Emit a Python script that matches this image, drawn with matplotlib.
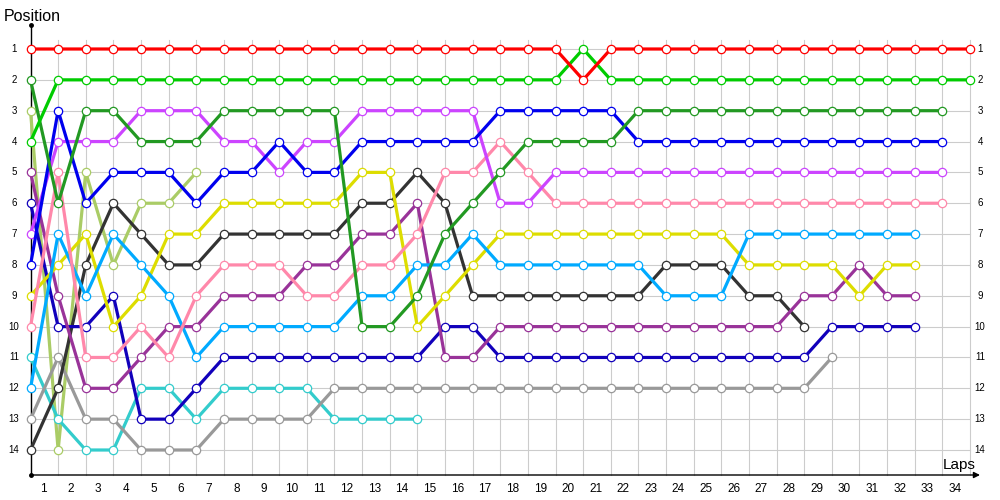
import matplotlib
matplotlib.use("Agg")
import matplotlib.pyplot as plt

plt.rcParams['font.family'] = ['Liberation Sans', 'DejaVu Sans']

# lap columns: 0 = start grid, then laps 1..34
lap_labels = [str(i) for i in range(1, 35)]
positions = list(range(1, 15))

# position of each car at each lap column (shorter list = lapped / retired)
red = [1, 1, 1, 1, 1, 1, 1, 1, 1, 1, 1, 1, 1, 1, 1, 1, 1, 1, 1, 1, 2, 1, 1, 1, 1, 1, 1, 1, 1, 1, 1, 1, 1, 1, 1]
bright_green = [4, 2, 2, 2, 2, 2, 2, 2, 2, 2, 2, 2, 2, 2, 2, 2, 2, 2, 2, 2, 1, 2, 2, 2, 2, 2, 2, 2, 2, 2, 2, 2, 2, 2, 2]
dark_green = [2, 6, 3, 3, 4, 4, 4, 3, 3, 3, 3, 3, 10, 10, 9, 7, 6, 5, 4, 4, 4, 4, 3, 3, 3, 3, 3, 3, 3, 3, 3, 3, 3, 3]
blue = [8, 3, 6, 5, 5, 5, 6, 5, 5, 4, 5, 5, 4, 4, 4, 4, 4, 3, 3, 3, 3, 3, 4, 4, 4, 4, 4, 4, 4, 4, 4, 4, 4, 4]
violet = [7, 4, 4, 4, 3, 3, 3, 4, 4, 5, 4, 4, 3, 3, 3, 3, 3, 6, 6, 5, 5, 5, 5, 5, 5, 5, 5, 5, 5, 5, 5, 5, 5, 5]
pink = [10, 5, 11, 11, 10, 11, 9, 8, 8, 8, 9, 9, 8, 8, 7, 5, 5, 4, 5, 6, 6, 6, 6, 6, 6, 6, 6, 6, 6, 6, 6, 6, 6, 6]
light_blue = [12, 7, 9, 7, 8, 9, 11, 10, 10, 10, 10, 10, 9, 9, 8, 8, 7, 8, 8, 8, 8, 8, 8, 9, 9, 9, 7, 7, 7, 7, 7, 7, 7]
yellow = [9, 8, 7, 10, 9, 7, 7, 6, 6, 6, 6, 6, 5, 5, 10, 9, 8, 7, 7, 7, 7, 7, 7, 7, 7, 7, 8, 8, 8, 8, 9, 8, 8]
dark_purple = [5, 9, 12, 12, 11, 10, 10, 9, 9, 9, 8, 8, 7, 7, 6, 11, 11, 10, 10, 10, 10, 10, 10, 10, 10, 10, 10, 10, 9, 9, 8, 9, 9]
navy = [6, 10, 10, 9, 13, 13, 12, 11, 11, 11, 11, 11, 11, 11, 11, 10, 10, 11, 11, 11, 11, 11, 11, 11, 11, 11, 11, 11, 11, 10, 10, 10, 10]
black = [14, 12, 8, 6, 7, 8, 8, 7, 7, 7, 7, 7, 6, 6, 5, 6, 9, 9, 9, 9, 9, 9, 9, 8, 8, 8, 9, 9, 10]
gray = [13, 11, 13, 13, 14, 14, 14, 13, 13, 13, 13, 12, 12, 12, 12, 12, 12, 12, 12, 12, 12, 12, 12, 12, 12, 12, 12, 12, 12, 11]
teal = [11, 13, 14, 14, 12, 12, 13, 12, 12, 12, 12, 13, 13, 13, 13]
light_green = [3, 14, 5, 8, 6, 6, 5]

cars = [
    (light_green, '#aacc66'),
    (teal, '#33cccc'),
    (gray, '#999999'),
    (black, '#333333'),
    (navy, '#1100bb'),
    (dark_purple, '#993399'),
    (yellow, '#dddd00'),
    (light_blue, '#00aaff'),
    (pink, '#ff88aa'),
    (violet, '#cc44ff'),
    (blue, '#0000ee'),
    (dark_green, '#229922'),
    (bright_green, '#00cc00'),
    (red, '#ff0000'),
]

# pixel mapping: col 0 at x=30.5px, col 34 at x=970px; pos 1 at y=49px, pos 14 at y=450px
dx = (970 - 30.5) / 34
dy = (450 - 49) / 13

def px_x(p):
    return (p - 30.5) / dx

def px_y(p):
    return 1 + (p - 49) / dy

fig = plt.figure(figsize=(10, 5), dpi=100)
ax = fig.add_axes([0, 0, 1, 1])
ax.set_xlim(px_x(0), px_x(1000))
ax.set_ylim(px_y(500), px_y(0))
ax.axis('off')

ncol = len(lap_labels) + 1
y_axis = px_y(475)

# grid
for p in positions:
    ax.plot([0, ncol - 1], [p, p], color='#cccccc', lw=0.8, zorder=1)
for c in range(ncol):
    ax.plot([c, c], [px_y(40), y_axis], color='#cccccc', lw=0.8, zorder=1)

# axes with arrows
ax.plot([0, 0], [y_axis, px_y(25)], color='black', lw=1, zorder=2)
ax.plot([0], [px_y(25)], marker='o', ms=2.5, color='black', zorder=2)
ax.plot([0], [y_axis], marker='o', ms=2.5, color='black', zorder=2)
ax.annotate('', xy=(px_x(980), y_axis), xytext=(0, y_axis),
            arrowprops=dict(arrowstyle='-|>', color='black', lw=1,
                            mutation_scale=9, shrinkA=0, shrinkB=0), zorder=2)

# lines
for vals, col in cars:
    ax.plot(range(len(vals)), vals, color=col, lw=2.3, zorder=3,
            marker='o', ms=6, mfc='white', mec=col, mew=0.9,
            solid_joinstyle='miter')

# labels
for p in positions:
    ax.text(px_x(14), p, str(p), ha='center', va='center', fontsize=7)
    ax.text(px_x(980), p, str(p), ha='center', va='center', fontsize=7)
for i, lab in enumerate(lap_labels):
    ax.text(i + 0.45, px_y(489), lab, ha='center', va='center', fontsize=8.5)

ax.text(px_x(4), px_y(21), 'Position', ha='left', va='baseline', fontsize=11.5)
ax.text(px_x(943), px_y(469), 'Laps', ha='left', va='baseline', fontsize=11)

fig.savefig('out.png', dpi=100)
